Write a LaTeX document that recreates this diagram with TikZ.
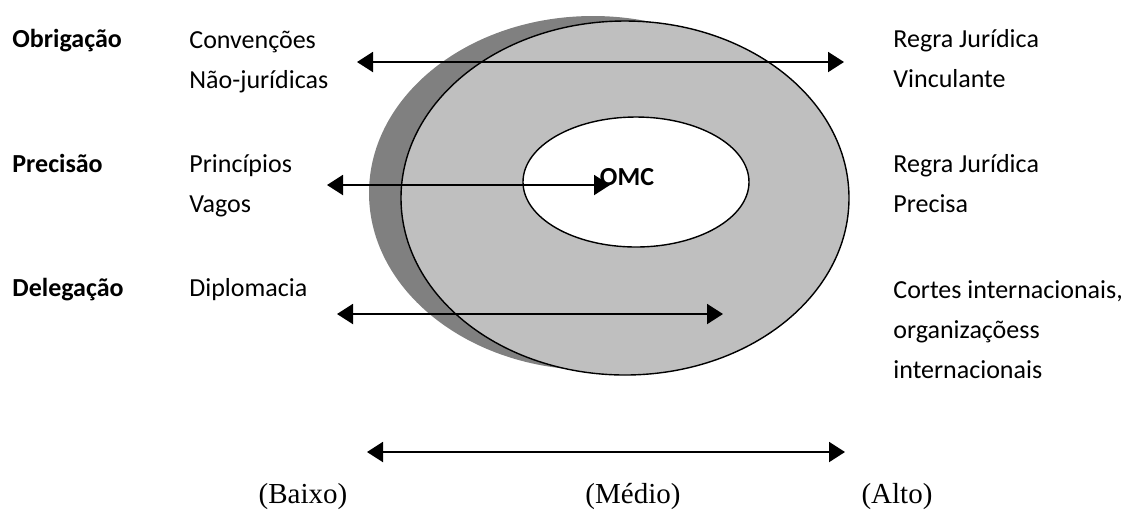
\documentclass[tikz,border=0pt]{standalone}
\usepackage{fontspec}
\setmainfont{Carlito}
\newfontfamily\levelfont{Liberation Serif}
\usetikzlibrary{arrows.meta}

\begin{document}
\begin{tikzpicture}[
    x=0.5pt, y=-0.5pt,
    rowhead/.style={
        anchor=base west, inner sep=0pt,
        font=\fontsize{13}{20}\selectfont\bfseries
    },
    desc/.style={
        anchor=base west, inner sep=0pt,
        align=left,
        font=\fontsize{13}{20}\selectfont
    },
    level/.style={
        anchor=base, inner sep=0pt,
        font=\levelfont\fontsize{14.5}{17}\selectfont
    },
    twoway/.style={
        {Triangle[length=8pt,width=10pt]}-{Triangle[length=8pt,width=10pt]},
        line width=1pt
    }
]
\useasboundingbox (0,0) rectangle (1131,511);

% Rings
\fill[black!50] (593,193) ellipse [x radius=224, y radius=177];
\filldraw[fill=black!25, draw=black, line width=0.7pt]
    (625,198) ellipse [x radius=224, y radius=177];
\filldraw[fill=white, draw=black, line width=0.7pt]
    (636,182) ellipse [x radius=113, y radius=65];
\node[rowhead, anchor=base] (omc) at (627,185) {OMC};

% Row headings
\node[rowhead] (obrig) at (12,47) {Obrigação};
\node[rowhead] (prec) at (12,172) {Precisão};
\node[rowhead] (deleg) at (12,296) {Delegação};

% Low end (placed at the baseline of the last line)
\node[desc] (obrigLow) at (189,88) {Convenções\\Não-jurídicas};
\node[desc] (precLow) at (189,212) {Princípios\\Vagos};
\node[desc] (delegLow) at (189,296) {Diplomacia};

% High end
\node[desc] (obrigHigh) at (893,87) {Regra Jurídica\\Vinculante};
\node[desc] (precHigh) at (893,212) {Regra Jurídica\\Precisa};
\node[desc] (delegHigh) at (893,378)
{Cortes internacionais,\\organizaçõess\\internacionais};

% Arrows
\coordinate (obrigA) at (357,62);
\coordinate (obrigB) at (844,62);
\coordinate (precA) at (327,185);
\coordinate (precB) at (610,185);
\coordinate (delegA) at (337,314);
\coordinate (delegB) at (723,314);
\coordinate (scaleA) at (367,452);
\coordinate (scaleB) at (845,452);
\draw[twoway] (obrigA) -- (obrigB);
\draw[twoway] (precA) -- (precB);
\draw[twoway] (delegA) -- (delegB);
\draw[twoway] (scaleA) -- (scaleB);

% Scale
\node[level] (low) at (303,503) {(Baixo)};
\node[level] (mid) at (633,503) {(Médio)};
\node[level] (high) at (897,503) {(Alto)};

\end{tikzpicture}
\end{document}
